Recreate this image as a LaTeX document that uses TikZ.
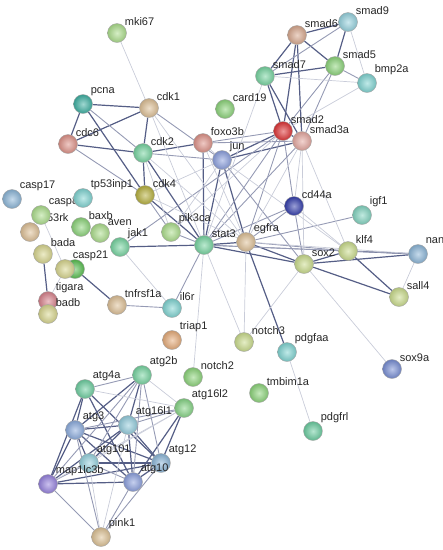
\documentclass[tikz,border=0pt]{standalone}
\usepackage{fontspec}
\setmainfont{Liberation Sans}
\usetikzlibrary{backgrounds}

\definecolor{edgec}{RGB}{62,72,118}
\definecolor{cGreenL}{RGB}{172,222,140}
\definecolor{cTeal}{RGB}{62,176,162}
\definecolor{cTan}{RGB}{222,192,150}
\definecolor{cSalmon}{RGB}{222,146,136}
\definecolor{cMint}{RGB}{118,212,160}
\definecolor{cPeri}{RGB}{140,160,222}
\definecolor{cPinkTan}{RGB}{216,168,142}
\definecolor{cCyanL}{RGB}{150,210,222}
\definecolor{cGreen}{RGB}{140,212,122}
\definecolor{cCyan}{RGB}{128,212,210}
\definecolor{cRed}{RGB}{222,52,54}
\definecolor{cBlueL}{RGB}{140,182,216}
\definecolor{cOlive}{RGB}{182,176,62}
\definecolor{cNavy}{RGB}{52,62,172}
\definecolor{cYelGr}{RGB}{202,220,140}
\definecolor{cYellow}{RGB}{216,214,142}
\definecolor{cGreenD}{RGB}{88,190,80}
\definecolor{cPink}{RGB}{216,130,140}
\definecolor{cPeach}{RGB}{230,172,122}
\definecolor{cBlue}{RGB}{120,142,212}
\definecolor{cSteel}{RGB}{140,172,222}
\definecolor{cPurple}{RGB}{150,130,222}

\tikzset{
  gene/.style={circle, minimum size=19pt, inner sep=0pt, draw=black!35,
    line width=0.4pt, shading=radial, inner color=#1!50!white, outer color=#1!88!black},
  lbl/.style={font=\fontsize{11}{12}\selectfont, text=black!85, inner sep=0.8pt},
  every label/.style={lbl},
  wk/.style={draw=edgec!28, line width=0.7pt},
  md/.style={draw=edgec!55, line width=0.9pt},
  sg/.style={draw=edgec!88, line width=1.2pt},
}

\begin{document}
\begin{tikzpicture}[x=1pt, y=-1pt]
        \useasboundingbox (0,0) rectangle (443,550);
        \clip (0,0) rectangle (443,550);

        % top: proliferation
        \node[gene=cGreenL, label=45:mki67] (mki67) at (117,33) {};
        \node[gene=cTeal, label=45:pcna] (pcna) at (83,104) {};
        \node[gene=cTan, label=45:cdk1] (cdk1) at (149,108) {};
        \node[gene=cSalmon, label=45:cdc6] (cdc6) at (68,144) {};
        \node[gene=cMint, label=45:cdk2] (cdk2) at (143,153) {};
        \node[gene=cSalmon, label=45:foxo3b] (foxo3b) at (203,143) {};
        \node[gene=cPeri, label=45:jun] (jun) at (222,160) {};
        \node[gene=cGreen, label=45:card19] (card19) at (225,109) {};

        % smad cluster
        \node[gene=cPinkTan, label=45:smad6] (smad6) at (297,35) {};
        \node[gene=cCyanL, label=45:smad9] (smad9) at (348,22) {};
        \node[gene=cMint, label=45:smad7] (smad7) at (265,76) {};
        \node[gene=cGreen, label=45:smad5] (smad5) at (335,66) {};
        \node[gene=cCyan, label=45:bmp2a] (bmp2a) at (367,83) {};
        \node[gene=cRed, label=45:smad2] (smad2) at (283,131) {};
        \node[gene=cSalmon!80!white, label=45:smad3a] (smad3a) at (302,141) {};

        % apoptosis
        \node[gene=cBlueL, label=45:casp17] (casp17) at (12,199) {};
        \node[gene=cTan, label=45:tp53rk] (tp53rk) at (30,232) {};
        \node[gene=cGreenL, label=45:casp8] (casp8) at (41,215) {};
        \node[gene=cCyan, label=45:tp53inp1] (tp53inp1) at (83,198) {};
        \node[gene=cOlive, label=45:cdk4] (cdk4) at (145,195) {};
        \node[gene=cGreen, label=45:baxb] (baxb) at (81,227) {};
        \node[gene=cGreenL, label=45:aven] (aven) at (100,233) {};
        \node[gene=cMint, label=45:jak1] (jak1) at (120,247) {};
        \node[gene=cGreenL, label=45:pik3ca] (pik3ca) at (171,232) {};
        \node[gene=cMint, label=45:stat3] (stat3) at (204,245) {};
        \node[gene=cYellow, label=45:bada] (bada) at (43,254) {};
        \node[gene=cGreenD] (casp9) at (75,269) {};
        \node[gene=cYellow, label=45:casp21] (casp21) at (65,269) {};
        \node[gene=cPink, label=45:tigara] (tigara) at (48,301) {};
        \node[gene=cYellow, label=45:badb] (badb) at (48,314) {};
        \node[gene=cTan, label=45:tnfrsf1a] (tnfrsf1a) at (117,305) {};
        \node[gene=cCyan, label=45:il6r] (il6r) at (172,308) {};
        \node[gene=cPeach, label=45:triap1] (triap1) at (172,340) {};

        % stemness
        \node[gene=cNavy, label=45:cd44a] (cd44a) at (294,206) {};
        \node[gene=cCyan!80!cGreen, label=45:igf1] (igf1) at (362,215) {};
        \node[gene=cTan, label=45:egfra] (egfra) at (246,242) {};
        \node[gene=cYelGr, label=45:klf4] (klf4) at (348,251) {};
        \node[gene=cYelGr, label=45:sox2] (sox2) at (304,264) {};
        \node[gene=cBlueL, label=45:nanog] (nanog) at (418,254) {};
        \node[gene=cYelGr, label=45:sall4] (sall4) at (399,297) {};
        \node[gene=cYelGr, label=45:notch3] (notch3) at (244,342) {};
        \node[gene=cCyan, label=45:pdgfaa] (pdgfaa) at (287,352) {};
        \node[gene=cBlue, label=45:sox9a] (sox9a) at (392,369) {};
        \node[gene=cGreen, label=45:notch2] (notch2) at (193,377) {};
        \node[gene=cGreen, label=45:tmbim1a] (tmbim1a) at (259,393) {};
        \node[gene=cMint!80!cTeal, label=45:pdgfrl] (pdgfrl) at (313,431) {};

        % autophagy
        \node[gene=cMint, label=45:atg2b] (atg2b) at (142,375) {};
        \node[gene=cMint!85!cTeal, label=45:atg4a] (atg4a) at (85,389) {};
        \node[gene=cGreen!70!cMint, label=45:atg16l2] (atg16l2) at (184,408) {};
        \node[gene=cSteel, label=45:atg3] (atg3) at (75,430) {};
        \node[gene=cCyanL, label=45:atg101] (atg101) at (89,463) {};
        \node[gene=cBlueL, label=45:atg12] (atg12) at (161,463) {};
        \node[gene=cCyanL!80!cBlueL, label=45:atg16l1] (atg16l1) at (128,425) {};
        \node[gene=cPurple, label=45:map1lc3b] (map1lc3b) at (48,484) {};
        \node[gene=cPeri, label=45:atg10] (atg10) at (133,482) {};
        \node[gene=cTan!90!cYellow, label=45:pink1] (pink1) at (101,537) {};

        % interactions
        \begin{scope}[on background layer]
        \foreach \a/\b in {smad6/smad9, smad6/smad7, smad6/smad5, smad6/smad2, smad6/smad3a,
            smad9/smad5, smad7/smad5, smad7/smad2, smad7/smad3a, smad2/smad3a,
            jun/smad2, jun/smad3a, cdk2/foxo3b, cdk1/cdk2, pcna/cdk1, pcna/cdc6,
            cdc6/cdk2, cdc6/cdk1, pcna/cdk4, cdk2/cdk4, cdk4/stat3, cdk2/stat3,
            foxo3b/stat3, jun/stat3, jun/egfra, stat3/egfra, stat3/jak1,
            egfra/sox2, stat3/sox2, egfra/pdgfaa, casp9/tnfrsf1a, bada/tigara,
            sox2/klf4, sox2/nanog, klf4/nanog, sox2/sall4, klf4/sall4,
            atg4a/atg3, atg4a/map1lc3b, atg3/atg16l1, atg3/atg12, atg3/atg10,
            atg3/map1lc3b, atg3/atg101, atg16l1/atg12, atg16l1/atg10,
            atg16l1/map1lc3b, atg12/atg10, atg12/map1lc3b, atg10/map1lc3b,
            atg101/atg12, atg2b/atg3, atg2b/atg16l1, atg16l2/atg12, atg16l2/atg10,
            atg16l1/atg101, atg4a/atg10, atg4a/atg12}
          \draw[sg] (\a) -- (\b);
        \foreach \a/\b in {smad9/smad7, smad5/bmp2a, smad5/smad2, smad5/smad3a,
            foxo3b/smad2, foxo3b/smad3a, smad2/stat3, smad3a/stat3, smad2/egfra,
            smad2/cd44a, smad2/jak1, stat3/pik3ca, stat3/il6r, cdk1/jun, cdk2/jun,
            cd44a/sox2, cd44a/stat3, cd44a/egfra, egfra/igf1, stat3/klf4,
            egfra/klf4, stat3/nanog, tnfrsf1a/il6r, pcna/cdk2, cdk4/pik3ca,
            jun/sox2, cdc6/cdk4, atg2b/atg4a, atg2b/atg101, atg2b/atg10,
            atg2b/atg12, atg2b/map1lc3b, atg16l2/atg3, atg16l2/atg16l1,
            pink1/map1lc3b, pink1/atg3, pink1/atg10, pink1/atg12,
            atg101/map1lc3b, atg101/atg10}
          \draw[md] (\a) -- (\b);
        \foreach \a/\b in {smad9/bmp2a, smad7/bmp2a, bmp2a/smad2, smad7/stat3,
            smad3a/cd44a, smad3a/sox2, smad3a/klf4, smad3a/egfra, smad2/pik3ca,
            mki67/cdk1, cdk1/stat3, cdk1/egfra, cdk2/egfra, cdk4/jun, cdk4/egfra,
            jun/klf4, cd44a/klf4, stat3/notch2, stat3/notch3, egfra/notch3,
            sox2/notch3, sox2/sox9a, pdgfaa/pdgfrl, nanog/sall4, jak1/il6r,
            cdk2/pik3ca, foxo3b/egfra, foxo3b/jun, jun/pik3ca, egfra/nanog,
            casp8/casp21, casp21/tigara, atg4a/atg16l2, atg2b/atg16l2,
            pink1/atg101, pink1/atg16l1, atg16l2/map1lc3b, atg16l2/atg101}
          \draw[wk] (\a) -- (\b);
        \end{scope}
\end{tikzpicture}
\end{document}
